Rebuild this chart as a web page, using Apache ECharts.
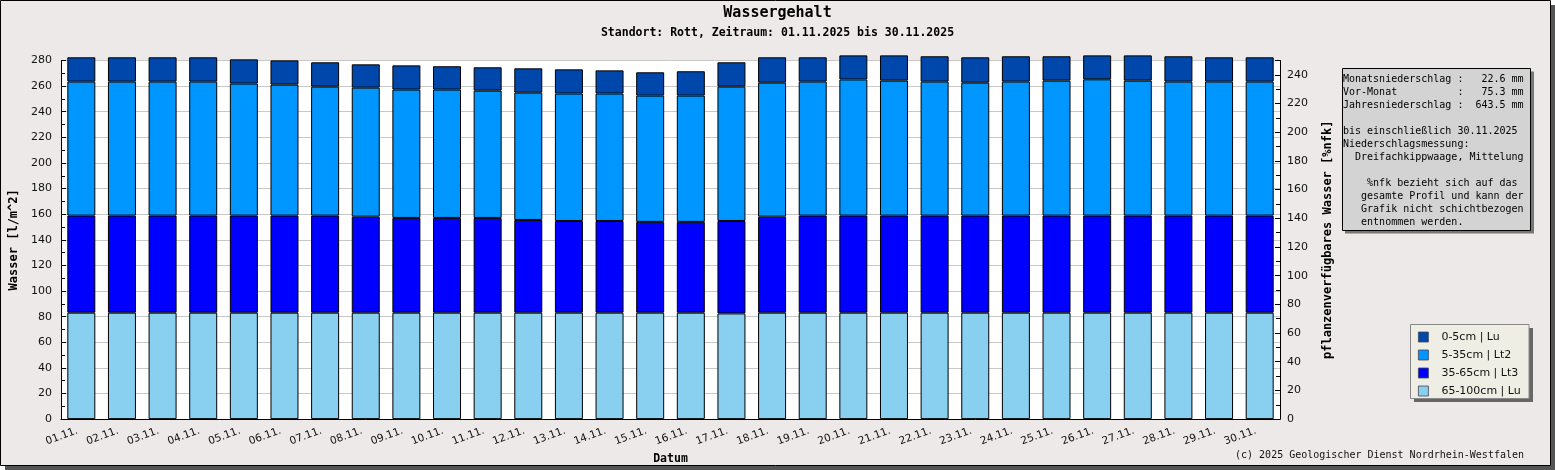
<!DOCTYPE html>
<html>
<head>
<meta charset="utf-8">
<script src="https://cdn.jsdelivr.net/npm/echarts@6/dist/echarts.min.js"></script>
<style>
html,body{margin:0;padding:0;background:#fff;}
#chart{width:1555px;height:470px;}
</style>
</head>
<body>
<div id="chart"></div>
<script>
// Datum (x-Achse)
var days = ['01.11.','02.11.','03.11.','04.11.','05.11.','06.11.','07.11.','08.11.','09.11.','10.11.',
  '11.11.','12.11.','13.11.','14.11.','15.11.','16.11.','17.11.','18.11.','19.11.','20.11.',
  '21.11.','22.11.','23.11.','24.11.','25.11.','26.11.','27.11.','28.11.','29.11.','30.11.'];

// Wasser [l/m^2] je Schicht
var l65_100 = [83.1,83.1,83.1,83.1,83.1,83.1,83.1,83.1,83.1,83.1,83.1,83.1,83.1,83.1,83.1,83.1,82.5,83.1,83.1,83.1,
  83.1,83.1,83.1,83.1,83.1,83.1,83.1,83.1,83.1,83.1];
var l35_65 = [75.8,75.8,75.8,75.8,75.8,75.8,75.8,75.0,74.0,74.0,74.0,72.4,71.6,71.6,70.9,70.9,72.2,75.0,75.8,75.8,
  75.8,75.8,75.8,75.8,75.8,75.8,75.8,75.8,75.8,75.8];
var l5_35 = [104.6,104.6,104.6,104.6,103.1,102.3,100.7,100.7,100.2,100.2,99.4,99.4,99.5,99.5,98.6,98.6,104.9,104.6,104.6,106.3,
  105.4,104.6,103.8,104.6,105.4,106.4,105.4,104.6,104.6,104.6];
var l0_5 = [19.0,19.0,19.0,19.0,18.9,18.9,19.0,18.2,18.9,18.2,18.2,19.0,18.9,18.1,18.2,19.0,19.0,19.8,19.0,18.8,
  19.7,19.8,19.8,19.8,19.0,18.7,19.7,19.8,19.0,19.0];

var layerNames = ['0-5cm | Lu','5-35cm | Lt2','35-65cm | Lt3','65-100cm | Lu'];
var layerColors = ['#0047AB','#0096FF','#0000FF','#89CFF0'];

var infoLines = [
  'Monatsniederschlag :   22.6 mm',
  'Vor-Monat          :   75.3 mm',
  'Jahresniederschlag :  643.5 mm',
  '',
  'bis einschließlich 30.11.2025',
  'Niederschlagsmessung:',
  '  Dreifachkippwaage, Mittelung',
  '',
  '    %nfk bezieht sich auf das',
  '   gesamte Profil und kann der',
  '   Grafik nicht schichtbezogen',
  '   entnommen werden.'
];

var mono = '"DejaVu Sans Mono", monospace';
var sans = '"DejaVu Sans", sans-serif';

var chart = echarts.init(document.getElementById('chart'));

function layer(name, color, values) {
  return {
    name: name,
    type: 'bar',
    stack: 'w',
    barWidth: 28,
    clip: false,
    data: values,
    itemStyle: { color: color, borderColor: '#000', borderWidth: 1 }
  };
}

var option = {
  animation: false,
  backgroundColor: 'transparent',
  title: [
    { text: 'Wassergehalt', left: 'center', top: 6, padding: 0,
      textStyle: { fontFamily: mono, fontWeight: 'bold', fontSize: 15, color: '#000' } },
    { text: 'Standort: Rott, Zeitraum: 01.11.2025 bis 30.11.2025', left: 'center', top: 27, padding: 0,
      textStyle: { fontFamily: mono, fontWeight: 'bold', fontSize: 11.5, color: '#000' } }
  ],
  grid: {
    left: 61, right: 275, top: 60.5, bottom: 50,
    show: true, backgroundColor: '#fff', borderWidth: 0
  },
  legend: {
    data: layerNames,
    orient: 'vertical',
    left: 1418, top: 331.5,
    padding: 0,
    itemWidth: 10, itemHeight: 10, itemGap: 7,
    icon: 'rect',
    selectedMode: false,
    z: 6,
    itemStyle: { borderWidth: 0.8, borderColor: '#445' },
    textStyle: { fontFamily: sans, fontSize: 11, color: '#111', padding: [0, 0, 0, 8] }
  },
  xAxis: {
    type: 'category',
    data: days,
    name: 'Datum',
    nameLocation: 'middle',
    nameGap: 31,
    nameTextStyle: { fontFamily: mono, fontWeight: 'bold', fontSize: 11.5, color: '#000' },
    axisLine: { lineStyle: { color: '#000', width: 1 } },
    axisTick: { inside: true, length: 5, lineStyle: { color: '#000' } },
    axisLabel: { rotate: 20, margin: 10, fontFamily: sans, fontSize: 10.5, color: '#111', interval: 0,
      padding: [0, 4, 0, 0] }
  },
  yAxis: [
    {
      type: 'value',
      min: 0, max: 280, interval: 20,
      name: 'Wasser [l/m^2]',
      nameLocation: 'middle',
      nameRotate: 90,
      nameGap: 40,
      nameTextStyle: { fontFamily: mono, fontWeight: 'bold', fontSize: 12, color: '#000' },
      axisLine: { show: true, lineStyle: { color: '#000' } },
      axisTick: { show: true, inside: true, length: 5, lineStyle: { color: '#000' } },
      minorTick: { show: true, splitNumber: 2, length: 4, lineStyle: { color: '#000' } },
      splitLine: { show: true, lineStyle: { color: '#c8c8c8', width: 1 } },
      axisLabel: { margin: 9, fontFamily: sans, fontSize: 11, color: '#111' }
    },
    {
      type: 'value',
      position: 'right',
      min: 0, max: 250, interval: 20,
      name: 'pflanzenverfügbares Wasser [%nfk]',
      nameLocation: 'middle',
      nameRotate: 90,
      nameGap: 42,
      nameTextStyle: { fontFamily: mono, fontWeight: 'bold', fontSize: 12, color: '#000' },
      axisLine: { show: true, lineStyle: { color: '#000' } },
      axisTick: { show: true, inside: true, length: 5, lineStyle: { color: '#000' } },
      minorTick: { show: true, splitNumber: 2, length: 4, lineStyle: { color: '#000' } },
      splitLine: { show: false },
      axisLabel: { margin: 7, fontFamily: sans, fontSize: 11, color: '#111', showMaxLabel: false }
    }
  ],
  graphic: [
    // Rahmen mit Schatten
    { type: 'rect', z: -10, silent: true, shape: { x: 5, y: 5, width: 1550, height: 465 }, style: { fill: '#555' } },
    { type: 'rect', z: -9, silent: true, shape: { x: 0.5, y: 0.5, width: 1550, height: 465 },
      style: { fill: '#ECE9E8', stroke: '#000', lineWidth: 1 } },
    // Infobox
    { type: 'rect', z: 5, shape: { x: 1345, y: 71.5, width: 189, height: 162 }, style: { fill: '#777' } },
    { type: 'rect', z: 5, shape: { x: 1342.5, y: 68.5, width: 188, height: 162 },
      style: { fill: '#D3D3D3', stroke: '#000', lineWidth: 1 } },
    { type: 'text', z: 6, x: 1343, y: 73,
      style: { text: infoLines.join('\n'), font: '10px ' + mono, lineHeight: 13, fill: '#000' } },
    // Legendenbox
    { type: 'rect', z: 5, shape: { x: 1414, y: 328, width: 119, height: 74 }, style: { fill: '#666' } },
    { type: 'rect', z: 5, shape: { x: 1410.5, y: 324.5, width: 118.5, height: 74 },
      style: { fill: '#EEEEE4', stroke: '#888', lineWidth: 1 } },
    // Copyright
    { type: 'text', z: 6, x: 1524, y: 455,
      style: { text: '(c) 2025 Geologischer Dienst Nordrhein-Westfalen', font: '10px ' + mono,
        fill: '#111', align: 'right', verticalAlign: 'middle' } }
  ],
  series: [
    layer(layerNames[3], layerColors[3], l65_100),
    layer(layerNames[2], layerColors[2], l35_65),
    layer(layerNames[1], layerColors[1], l5_35),
    layer(layerNames[0], layerColors[0], l0_5)
  ]
};

chart.setOption(option);
</script>
</body>
</html>
